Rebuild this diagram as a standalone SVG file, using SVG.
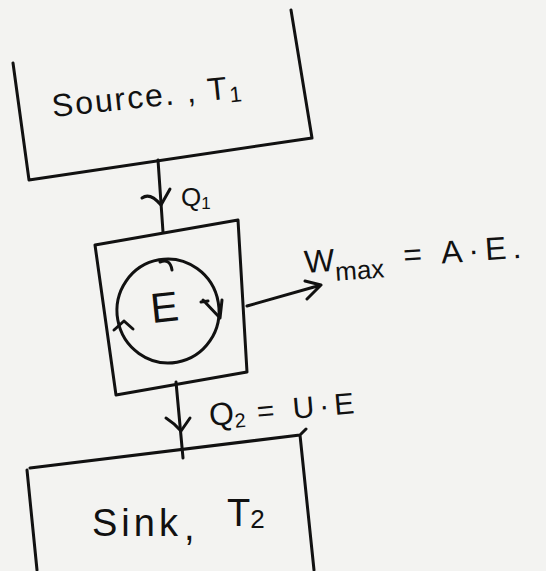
<svg xmlns="http://www.w3.org/2000/svg" width="546" height="571" viewBox="0 0 546 571">
<style>
.ln{fill:none;stroke:#111;stroke-width:3;stroke-linecap:round;stroke-linejoin:round}
.tx{font-family:"Liberation Sans","DejaVu Sans",sans-serif;fill:#111}
</style>
<rect width="546" height="571" fill="#f3f3f1"/>
<g id="source">
<path class="ln" d="M13,63 L29,180 L312,138 L291,10"/>
<text class="tx" x="53" y="117" font-size="32" letter-spacing="2" transform="rotate(-6 53 117)">Source. , T<tspan font-size="22" dy="4">1</tspan></text>
</g>
<g id="engine">
<path class="ln" d="M95,245 L238,220 L247,372 L116,395 Z"/>
<ellipse class="ln" cx="168" cy="311" rx="51" ry="52" transform="rotate(-10 168 311)"/>
<path class="ln" d="M160,262 Q170,258 172,270"/>
<path class="ln" d="M203,300 L220,318 M201,302 L208,301 M222,300 L220,318"/>
<path class="ln" d="M114,330 L124,321 M124,321 L133,329"/>
<text class="tx" x="152" y="323" font-size="42" transform="rotate(-6 152 323)">E</text>
</g>
<g id="sink">
<path class="ln" d="M27,470 L37,570 M30,468 L300,435 L314,570 M300,435 L306,429"/>
<text class="tx" x="92" y="536" font-size="38" letter-spacing="4">Sink</text>
<text class="tx" x="184" y="540" font-size="38">,</text>
<text class="tx" x="227" y="526" font-size="38">T<tspan font-size="26" dy="2">2</tspan></text>
</g>
<g id="connectors">
<path class="ln" d="M158,160 L163,232"/>
<path class="ln" d="M142,198 Q150,192 161,205 L170,189"/>
<path class="ln" d="M247,306 L321,285 M305,281 L321,285 L307,299"/>
<path class="ln" d="M176,382 L183,458"/>
<path class="ln" d="M166,418 Q174,423 181,431 L190,418"/>
</g>
<g id="labels">
<text class="tx" x="181" y="206" font-size="26">Q<tspan font-size="17" dy="3">1</tspan></text>
<text class="tx" x="305" y="273" font-size="32" transform="rotate(-4 305 273)">W<tspan font-size="26" dy="10">max</tspan><tspan dx="20" dy="-10" letter-spacing="6">= A·E.</tspan></text>
<text class="tx" x="210" y="426" font-size="32" transform="rotate(-5 210 426)">Q<tspan font-size="20" dy="4">2</tspan><tspan dx="12" dy="-4" font-size="30" letter-spacing="5">= U·E</tspan></text>
</g>
</svg>
